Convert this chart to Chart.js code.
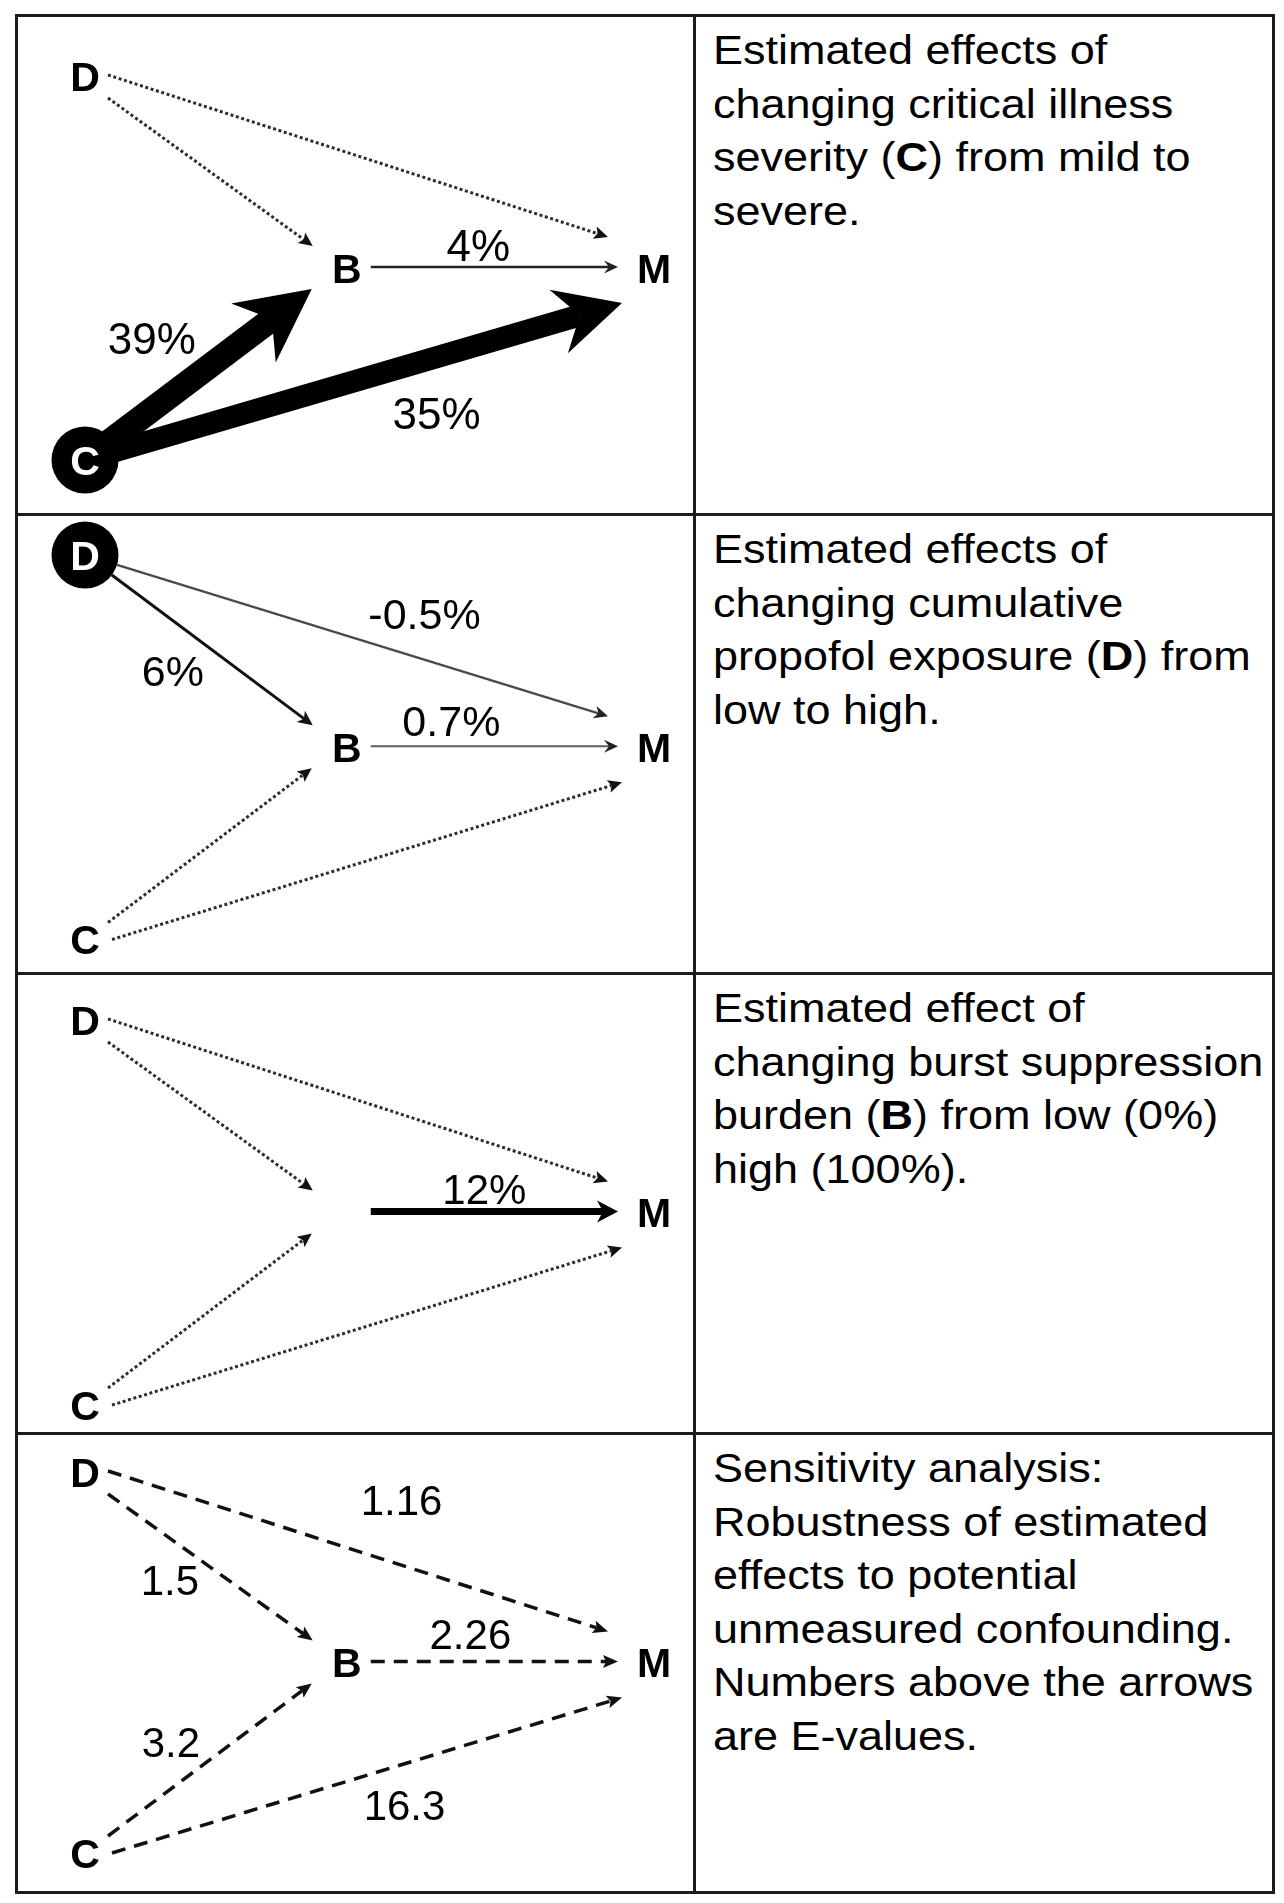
<!DOCTYPE html>
<html>
<head>
<meta charset="utf-8">
<script src="https://cdn.jsdelivr.net/npm/chart.js@4.4.1/dist/chart.umd.min.js"></script>
<style>
html,body{margin:0;padding:0;background:#fff;}
#page{position:relative;width:1284px;height:1903px;background:#fff;overflow:hidden;}
canvas.panel{position:absolute;left:0;}
.hl{position:absolute;height:3px;background:#1c1c1c;z-index:5;}
.vl{position:absolute;width:3px;background:#1c1c1c;z-index:5;}
.desc{position:absolute;left:713px;font-family:"Liberation Sans",Arial,sans-serif;font-size:40px;line-height:53.5px;color:#000;white-space:nowrap;transform:scaleX(1.125);transform-origin:0 0;z-index:6;}
.desc b{font-weight:bold;}
</style>
</head>
<body>
<div id="page"></div>
<script>
// ---------------- DATA ----------------
const nodeNames = ['D', 'B', 'M', 'C'];
const nodeX = [0, 0.46, 1, 0];          // diagram layout units
const nodeY = [1, 0.5, 0.5, 0];
const edgeFrom = ['D', 'D', 'B', 'C', 'C'];
const edgeTo   = ['M', 'B', 'M', 'B', 'M'];
const panelLabels1 = ['', '', '4%', '39%', '35%'];
const panelLabels2 = ['-0.5%', '6%', '0.7%', '', ''];
const panelLabels3 = ['', '', '12%', '', ''];
const panelLabels4 = ['1.16', '1.5', '2.26', '3.2', '16.3'];
const exposureNode = ['C', 'D', null, null];   // circled node per panel
const unlabeledNode = [null, null, 'B', null];
const desc1 = ['Estimated effects of', 'changing critical illness', 'severity (**C**) from mild to', 'severe.'];
const desc2 = ['Estimated effects of', 'changing cumulative', 'propofol exposure (**D**) from', 'low to high.'];
const desc3 = ['Estimated effect of', 'changing burst suppression', 'burden (**B**) from low (0%)', 'high (100%).'];
const desc4 = ['Sensitivity analysis:', 'Robustness of estimated', 'effects to potential', 'unmeasured confounding.', 'Numbers above the arrows', 'are E-values.'];

// ---------------- STYLE / LAYOUT ----------------
const STYLES = {
  dot:    {w: 3, dash: [3, 2.6], color: '#2e2e2e', head: {len: 14, hw: 6.5, notch: 3, color: '#111'}},
  dash:   {w: 3.5, dash: [14, 9], color: '#111', head: {len: 15, hw: 6.5, notch: 3, color: '#111'}},
  thin4:  {w: 2.5, color: '#222', head: {len: 14, hw: 6.5, notch: 5, color: '#222'}},
  thick39:{w: 25, color: '#000', head: {len: 73, hw: 37, notch: 23, color: '#000'}},
  thick35:{w: 22, color: '#000', head: {len: 66, hw: 33, notch: 22, color: '#000'}},
  gray05: {w: 2.4, color: '#4a4a4a', head: {len: 14, hw: 6.5, notch: 4, color: '#222'}},
  solid6: {w: 3, color: '#111', head: {len: 15, hw: 7, notch: 4, color: '#111'}},
  gray07: {w: 2.2, color: '#606060', head: {len: 14, hw: 6.5, notch: 5, color: '#222'}},
  bold12: {w: 7, color: '#000', head: {len: 21, hw: 11, notch: 6, color: '#000'}}
};
const panelEdgeStyles = [
  ['dot', 'dot', 'thin4', 'thick39', 'thick35'],
  ['gray05', 'solid6', 'gray07', 'dot', 'dot'],
  ['dot', 'dot', 'bold12', 'dot', 'dot'],
  ['dash', 'dash', 'dash', 'dash', 'dash']
];
const panelLabelFont = [44, 43, 42, 42];
// endpoint offsets (px) from node centres for each edge
const FROM_OFF = [[23, -1], [23, 22], [24, -1], [23, -17], [27, 0]];
const TO_OFF   = [[-46, -31], [-34, -22], [-36, -1], [-35, 21], [-32, 35]];
// label offsets (px) from midpoint of node centres
const LABEL_OFF = [
  [[0,0],[0,0],[-22,-23],[-64,-26],[67,49]],
  [[55,-38],[-43,19],[-49,-27],[0,0],[0,0]],
  [[0,0],[0,0],[-16,-24],[0,0],[0,0]],
  [[32,-67],[-46,13],[-30,-29],[-45,-16],[35,47]]
];
const ROWS = [
  {top: 15, h: 500, padTop: 61, padBottom: 55},
  {top: 514, h: 459, padTop: 41, padBottom: 30},
  {top: 973, h: 460, padTop: 47, padBottom: 28},
  {top: 1433, h: 459, padTop: 39, padBottom: 39}
];
const CIRCLE_R = 33.5;
const FONT = '"Liberation Sans", Arial, sans-serif';

const allLabels = [panelLabels1, panelLabels2, panelLabels3, panelLabels4];
const allDesc = [desc1, desc2, desc3, desc4];

// ---------------- PAGE FRAME ----------------
const page = document.getElementById('page');
function addDiv(cls, css) { const d = document.createElement('div'); d.className = cls; Object.assign(d.style, css); page.appendChild(d); return d; }
[14, 513, 972, 1432, 1891].forEach(y => addDiv('hl', {left: '15px', top: y + 'px', width: '1260px'}));
[15, 693, 1272].forEach(x => addDiv('vl', {left: x + 'px', top: '14px', height: '1880px'}));
allDesc.forEach((lines, i) => {
  const d = addDiv('desc', {top: (ROWS[i].top + 9) + 'px'});
  d.innerHTML = lines.map(l => l.replace(/\*\*(.+?)\*\*/g, '<b>$1</b>')).join('<br>');
});

// ---------------- DRAWING HELPERS ----------------
function drawEdge(ctx, sx, sy, ex, ey, st) {
  const dx = ex - sx, dy = ey - sy, L = Math.hypot(dx, dy);
  const ux = dx / L, uy = dy / L, nx = -uy, ny = ux;
  const h = st.head, back = h.len - h.notch;
  ctx.save();
  ctx.strokeStyle = st.color; ctx.lineWidth = st.w; ctx.lineCap = 'butt';
  ctx.setLineDash(st.dash || []);
  ctx.beginPath(); ctx.moveTo(sx, sy); ctx.lineTo(ex - ux * back, ey - uy * back); ctx.stroke();
  ctx.setLineDash([]);
  ctx.fillStyle = h.color;
  ctx.beginPath();
  ctx.moveTo(ex, ey);
  ctx.lineTo(ex - ux * h.len + nx * h.hw, ey - uy * h.len + ny * h.hw);
  ctx.lineTo(ex - ux * back, ey - uy * back);
  ctx.lineTo(ex - ux * h.len - nx * h.hw, ey - uy * h.len - ny * h.hw);
  ctx.closePath(); ctx.fill();
  ctx.restore();
}

const diagramPlugin = {
  id: 'diagram',
  beforeDatasetsDraw(chart) {
    const ctx = chart.ctx, pi = chart.options.plugins.diagram.panel;
    edgeFrom.forEach((f, i) => {
      const meta = chart.getDatasetMeta(i);
      const a = meta.data[0], b = meta.data[1];
      const st = STYLES[panelEdgeStyles[pi][i]];
      const ex = b.x + TO_OFF[i][0], ey = b.y + TO_OFF[i][1];
      let sx, sy;
      if (exposureNode[pi] === f) {
        const dx = ex - a.x, dy = ey - a.y, L = Math.hypot(dx, dy);
        const s = st.w / 2;
        const d = s > 4 ? Math.sqrt(CIRCLE_R * CIRCLE_R - s * s) - 2 : CIRCLE_R;
        sx = a.x + dx / L * d; sy = a.y + dy / L * d;
      } else {
        sx = a.x + FROM_OFF[i][0]; sy = a.y + FROM_OFF[i][1];
      }
      drawEdge(ctx, sx, sy, ex, ey, st);
      const txt = allLabels[pi][i];
      if (txt) {
        const fs = panelLabelFont[pi];
        const mx = (a.x + b.x) / 2 + LABEL_OFF[pi][i][0];
        const my = (a.y + b.y) / 2 + LABEL_OFF[pi][i][1];
        ctx.save();
        ctx.font = fs + 'px ' + FONT; ctx.fillStyle = '#000';
        ctx.textAlign = 'center'; ctx.textBaseline = 'alphabetic';
        ctx.fillText(txt, mx, my + fs * 0.358);
        ctx.restore();
      }
    });
  },
  afterDatasetsDraw(chart) {
    const ctx = chart.ctx, pi = chart.options.plugins.diagram.panel;
    const meta = chart.getDatasetMeta(edgeFrom.length);
    nodeNames.forEach((n, k) => {
      if (unlabeledNode[pi] === n) return;
      const p = meta.data[k];
      ctx.save();
      ctx.font = 'bold 41px ' + FONT;
      ctx.fillStyle = exposureNode[pi] === n ? '#fff' : '#000';
      ctx.textAlign = 'center'; ctx.textBaseline = 'alphabetic';
      ctx.fillText(n, p.x, p.y + 14.7);
      ctx.restore();
    });
  }
};

// ---------------- CHARTS ----------------
const idx = name => nodeNames.indexOf(name);
ROWS.forEach((row, pi) => {
  const cv = document.createElement('canvas');
  cv.className = 'panel';
  cv.width = 694; cv.height = row.h;
  cv.style.top = row.top + 'px';
  cv.style.width = '694px'; cv.style.height = row.h + 'px';
  page.appendChild(cv);
  const datasets = edgeFrom.map((f, i) => ({
    data: [{x: nodeX[idx(f)], y: nodeY[idx(f)]}, {x: nodeX[idx(edgeTo[i])], y: nodeY[idx(edgeTo[i])]}],
    pointRadius: 0, showLine: false, clip: false
  }));
  datasets.push({
    data: nodeNames.map((n, k) => ({x: nodeX[k], y: nodeY[k]})),
    pointRadius: nodeNames.map(n => exposureNode[pi] === n ? CIRCLE_R : 0),
    pointBackgroundColor: '#000', pointBorderWidth: 0, pointBorderColor: '#000',
    showLine: false, clip: false
  });
  new Chart(cv, {
    type: 'scatter',
    data: {datasets},
    options: {
      responsive: false, animation: false, devicePixelRatio: 1, events: [],
      layout: {padding: {left: 85, right: 40, top: row.padTop, bottom: row.padBottom}},
      scales: {
        x: {type: 'linear', min: 0, max: 1, display: false},
        y: {type: 'linear', min: 0, max: 1, display: false}
      },
      plugins: {legend: {display: false}, tooltip: {enabled: false}, diagram: {panel: pi}}
    },
    plugins: [diagramPlugin]
  });
});
</script>
</body>
</html>
